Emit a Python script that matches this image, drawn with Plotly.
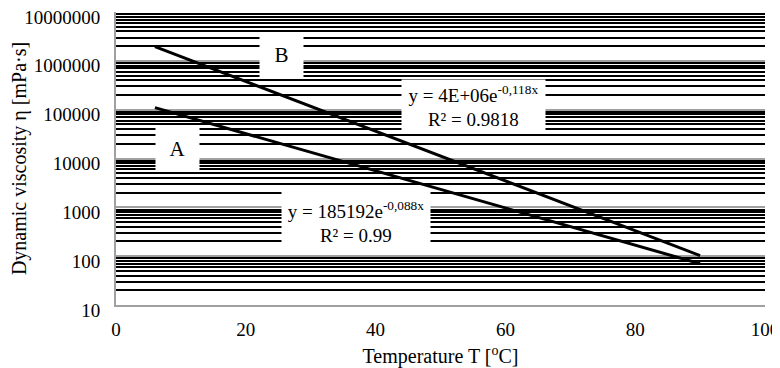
import plotly.graph_objects as go

# Data
temps = [6, 90]
visc_A = [110000, 70]
visc_B = [1950000, 103]

series_labels = ["A", "B"]
eq_A = ["y = 185192e<sup>-0,088x</sup>", "R² = 0.99"]
eq_B = ["y = 4E+06e<sup>-0,118x</sup>", "R² = 0.9818"]

x_ticks = [0, 20, 40, 60, 80, 100]
y_ticks = [10, 100, 1000, 10000, 100000, 1000000, 10000000]

FONT = "Liberation Serif, Times New Roman, serif"
fnt = lambda s: dict(family=FONT, size=s, color="black")

fig = go.Figure()
fig.add_trace(go.Scatter(x=temps, y=visc_A, mode="lines",
                         line=dict(color="black", width=3), showlegend=False))
fig.add_trace(go.Scatter(x=temps, y=visc_B, mode="lines",
                         line=dict(color="black", width=3), showlegend=False))

box = dict(bgcolor="white", borderpad=0, showarrow=False, font=fnt(21))
fig.add_annotation(x=9.48, y=4.205, xref="x", yref="y", text=series_labels[0],
                   width=43, height=43, **box)
fig.add_annotation(x=25.5, y=6.12, xref="x", yref="y", text=series_labels[1],
                   width=43, height=44, **box)
box2 = dict(bgcolor="white", borderpad=0, showarrow=False, font=fnt(19))
fig.add_annotation(x=36.98, y=2.69, xref="x", yref="y",
                   text="<br>".join(eq_A), width=148, height=60, **box2)
fig.add_annotation(x=55.1, y=5.075, xref="x", yref="y",
                   text="<br>".join(eq_B), width=143, height=52, **box2)

# page body has an 8px margin, so the figure is sized to fit the window
fig.update_layout(
    width=772, height=360,
    margin=dict(l=108, r=15, t=4, b=63, autoexpand=False),
    paper_bgcolor="white", plot_bgcolor="white",
    font=fnt(19),
    xaxis=dict(range=[0, 100], tickvals=x_ticks, showgrid=False,
               showline=True, linecolor="#a0a0a0", linewidth=2,
               ticks="outside", ticklen=6, tickcolor="rgba(0,0,0,0)",
               zeroline=False, automargin=False, ticklabeloverflow="allow",
               title=dict(text="Temperature T [<sup>o</sup>C]", font=fnt(20), standoff=13),
               tickfont=fnt(19)),
    yaxis=dict(type="log", range=[1, 7], tickvals=y_ticks,
               ticktext=[str(v) for v in y_ticks],
               showgrid=True, gridcolor="#a0a0a0", gridwidth=2,
               showline=True, linecolor="#a0a0a0", linewidth=2,
               ticks="outside", ticklen=10, tickcolor="rgba(0,0,0,0)",
               ticklabelshift=5,
               zeroline=False, automargin=False, ticklabeloverflow="allow",
               minor=dict(showgrid=True, gridcolor="black", gridwidth=1.6, ticks="", dtick="D1"),
               title=dict(text="Dynamic viscosity η [mPa·s]", font=fnt(20), standoff=0),
               tickfont=fnt(19)),
)

fig.write_html("out.html")
